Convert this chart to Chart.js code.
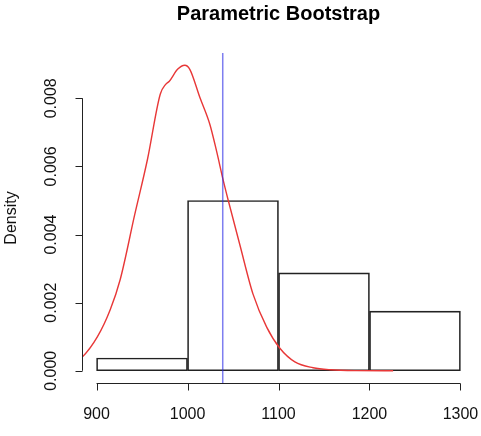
<!DOCTYPE html>
<html>
<head>
<meta charset="utf-8">
<script src="https://cdn.jsdelivr.net/npm/chart.js@4"></script>
<style>
  body { margin: 0; background: #fff; }
</style>
</head>
<body>
<canvas id="bootChart" width="481" height="436"></canvas>
<script>
// histogram: bin centres and densities (bins 100 wide)
let binMids = [950, 1050, 1150, 1250];
let binDensity = [0.000375, 0.005, 0.002875, 0.00175];

// density curve
let curveX = [872, 883.5, 901, 915, 926, 942, 956, 970, 976, 980, 989, 997, 1002.5, 1013.5, 1024.5, 1032, 1039, 1044.5, 1057.5, 1072, 1087, 1101.5, 1118, 1138, 1157, 1185, 1226];
let curveY = [0.0002, 0.00038, 0.0010, 0.00179, 0.00268, 0.00459, 0.00621, 0.00812, 0.00841, 0.0085, 0.00885, 0.00897, 0.00885, 0.00803, 0.00724, 0.00644, 0.00562, 0.00503, 0.0037, 0.00225, 0.00128, 0.00066, 0.00026, 0.00009, 0.00003, 0.000005, 0];

let observed = 1038.7;

let xTicks = [900, 1000, 1100, 1200, 1300];
let yTicks = [0, 0.002, 0.004, 0.006, 0.008];
let yLabels = ["0.000", "0.002", "0.004", "0.006", "0.008"];

let fontName = "'Liberation Sans', Arial, sans-serif";

// R style axes drawn by hand from the chart scales
let rAxes = {
    id: "rAxes",
    afterDraw(chart) {
        let ctx = chart.ctx;
        let xs = chart.scales.x;
        let ys = chart.scales.y;
        let area = chart.chartArea;
        ctx.save();
        ctx.strokeStyle = "#222";
        ctx.fillStyle = "#111";
        ctx.lineWidth = 1;

        // x axis
        let yb = Math.round(area.bottom) + 0.5;
        ctx.beginPath();
        ctx.moveTo(xs.getPixelForValue(xTicks[0]), yb);
        ctx.lineTo(xs.getPixelForValue(xTicks[xTicks.length - 1]), yb);
        xTicks.forEach(t => {
            let px = Math.round(xs.getPixelForValue(t)) + 0.5;
            ctx.moveTo(px, yb);
            ctx.lineTo(px, yb + 7);
        });
        ctx.stroke();
        ctx.font = "16px " + fontName;
        ctx.textAlign = "center";
        ctx.textBaseline = "middle";
        xTicks.forEach(t => ctx.fillText(String(t), xs.getPixelForValue(t), 415));

        // y axis
        let xl = Math.round(area.left) + 0.5;
        ctx.beginPath();
        ctx.moveTo(xl, ys.getPixelForValue(yTicks[0]));
        ctx.lineTo(xl, ys.getPixelForValue(yTicks[yTicks.length - 1]));
        yTicks.forEach(t => {
            let py = Math.round(ys.getPixelForValue(t)) + 0.5;
            ctx.moveTo(xl, py);
            ctx.lineTo(xl - 7, py);
        });
        ctx.stroke();
        yTicks.forEach((t, i) => {
            ctx.save();
            ctx.translate(52, ys.getPixelForValue(t));
            ctx.rotate(-Math.PI / 2);
            ctx.fillText(yLabels[i], 0, 0);
            ctx.restore();
        });

        // axis title
        ctx.save();
        ctx.translate(12, (area.top + area.bottom) / 2);
        ctx.rotate(-Math.PI / 2);
        ctx.fillText("Density", 0, 0);
        ctx.restore();

        // main title
        ctx.font = "bold 20px " + fontName;
        ctx.fillStyle = "#000";
        ctx.fillText("Parametric Bootstrap", (area.left + area.right) / 2, 14);
        ctx.restore();
    }
};

new Chart("bootChart", {
    type: "bar",
    data: {
        datasets: [
            {
                type: "line",
                data: [{ x: observed, y: -1 }, { x: observed, y: 1 }],
                borderColor: "rgba(40,40,230,0.6)",
                borderWidth: 1.5,
                pointRadius: 0
            },
            {
                type: "line",
                data: curveX.map((x, i) => ({ x: x, y: curveY[i] })),
                borderColor: "rgb(232,55,55)",
                borderWidth: 1.4,
                pointRadius: 0,
                cubicInterpolationMode: "monotone"
            },
            {
                type: "bar",
                data: binMids.map((x, i) => ({ x: x, y: binDensity[i] })),
                backgroundColor: "rgba(255,255,255,0)",
                borderColor: "#222",
                borderWidth: 1,
                borderSkipped: false,
                barPercentage: 1,
                categoryPercentage: 1
            }
        ]
    },
    options: {
        responsive: false,
        animation: false,
        layout: { padding: { left: 82, right: 6, top: 53, bottom: 53 } },
        plugins: {
            legend: { display: false },
            tooltip: { enabled: false }
        },
        scales: {
            x: { type: "linear", display: false, offset: false, min: 884, max: 1316 },
            y: { type: "linear", display: false, min: -0.000359, max: 0.00933 }
        }
    },
    plugins: [rAxes]
});
</script>
</body>
</html>
